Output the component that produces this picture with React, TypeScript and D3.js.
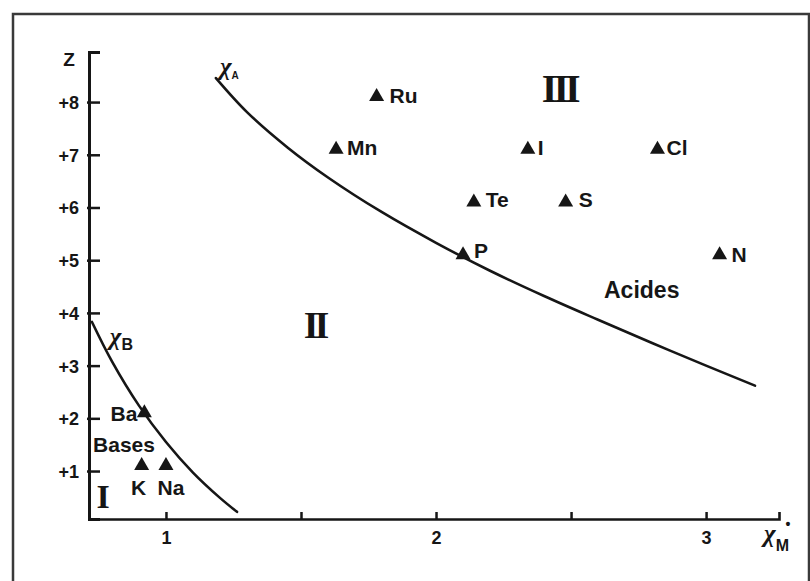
import React, { useEffect, useRef } from "react";
import * as d3 from "d3";

const W = 810;
const H = 581;

// elements: electronegativity (x) and oxidation state Z
const elements = ["Ru", "Mn", "I", "Cl", "Te", "S", "P", "N", "Ba", "K", "Na"];
const chiM = [1.78, 1.63, 2.34, 2.82, 2.14, 2.48, 2.1, 3.05, 0.92, 0.91, 1.0];
const charge = [8, 7, 7, 7, 6, 6, 5, 5, 2, 1, 1];

// boundary curve chi_A (acids)
const acidX = [1.185, 1.3, 1.45, 1.6, 1.8, 2.0, 2.2, 2.4, 2.6, 2.8, 3.0, 3.181];
const acidZ = [8.455, 7.81, 7.14, 6.57, 5.91, 5.33, 4.80, 4.32, 3.87, 3.43, 3.0, 2.62];

// boundary curve chi_B (bases)
const baseX = [0.726, 0.8, 0.9, 1.0, 1.1, 1.2, 1.263];
const baseZ = [3.828, 3.081, 2.241, 1.551, 0.971, 0.491, 0.226];

const zTicks = [1, 2, 3, 4, 5, 6, 7, 8];
const xTicks = [1, 1.5, 2, 2.5, 3];
const xTickLabels = ["1", "", "2", "", "3"];

const regionNames = ["I", "II", "III"];
const regionX = [0.767, 1.55, 2.456];
const regionZ = [0.3, 3.52, 8.0];

const INK = "#161616";
const SANS = "'Liberation Sans', Arial, sans-serif";
const SERIF = "'Liberation Serif', 'Times New Roman', serif";

// label offsets relative to the marker [dx, dy, anchor]
const labelPlace: Record<string, [number, number, string]> = {
  Ru: [13, 1, "start"],
  Mn: [11, 0, "start"],
  I: [10, 0, "start"],
  Cl: [9, 0, "start"],
  Te: [12, 0, "start"],
  S: [13, 0, "start"],
  P: [11, -2, "start"],
  N: [12, 2, "start"],
  Ba: [-7, 3, "end"],
  K: [-3, 24, "middle"],
  Na: [5, 24, "middle"],
};

function Chart() {
  const ref = useRef<SVGSVGElement | null>(null);

  useEffect(() => {
    const svg = d3.select(ref.current);
    svg.selectAll("*").remove();

    const x = d3.scaleLinear().domain([0.715, 3.27]).range([89, 779]);
    const y = d3.scaleLinear().domain([0.09, 8.95]).range([519, 52]);

    // scanned frame
    svg.append("rect")
      .attr("x", 13).attr("y", 14)
      .attr("width", 796).attr("height", 640)
      .attr("fill", "none")
      .attr("stroke", "#3a3a3a")
      .attr("stroke-width", 2.5);

    // y axis
    const yAxis = d3.axisLeft(y)
      .tickValues(zTicks)
      .tickSize(-11)
      .tickPadding(10)
      .tickFormat((d) => "+" + d);
    const gY = svg.append("g").attr("transform", `translate(${x(0.715)},0)`).call(yAxis);
    gY.select(".domain").attr("stroke", INK).attr("stroke-width", 3);
    gY.selectAll(".tick line").attr("stroke", INK).attr("stroke-width", 2.5)
      .attr("x1", -2);
    gY.selectAll(".tick text")
      .attr("fill", INK)
      .attr("font-family", SANS)
      .attr("font-weight", "bold")
      .attr("font-size", 18)
      .attr("dy", "0.36em");

    // x axis
    const xAxis = d3.axisBottom(x)
      .tickValues(xTicks)
      .tickSize(-7)
      .tickPadding(12)
      .tickFormat((d, i) => xTickLabels[i]);
    const gX = svg.append("g").attr("transform", `translate(0,${y(0.09)})`).call(xAxis);
    gX.select(".domain").attr("stroke", INK).attr("stroke-width", 2.6);
    gX.selectAll(".tick line").attr("stroke", INK).attr("stroke-width", 2.5);
    gX.selectAll(".tick text")
      .attr("fill", INK)
      .attr("font-family", SANS)
      .attr("font-weight", "bold")
      .attr("font-size", 18)
      .attr("dy", "0.71em");

    // axis titles
    svg.append("text")
      .attr("x", x(0.715) - 20).attr("y", 66)
      .attr("text-anchor", "middle")
      .attr("font-family", SANS).attr("font-weight", "bold").attr("font-size", 19)
      .attr("fill", INK)
      .text("Z");

    const xm = svg.append("text")
      .attr("x", x(3.27) - 15).attr("y", 542)
      .attr("font-family", SERIF).attr("font-size", 25).attr("fill", INK);
    xm.append("tspan").attr("font-style", "italic").attr("font-weight", "bold").text("χ");
    xm.append("tspan").attr("dy", 9).attr("font-family", SANS).attr("font-weight", "bold")
      .attr("font-size", 16).text("M");
    svg.append("text")
      .attr("x", x(3.27) + 9).attr("y", 529)
      .attr("text-anchor", "middle")
      .attr("font-family", SANS).attr("font-weight", "bold").attr("font-size", 14)
      .attr("fill", INK)
      .text("•");

    // boundary curves
    const line = d3.line<[number, number]>()
      .x((d) => x(d[0]))
      .y((d) => y(d[1]))
      .curve(d3.curveCatmullRom);

    const acid: [number, number][] = acidX.map((v, i) => [v, acidZ[i]]);
    const base: [number, number][] = baseX.map((v, i) => [v, baseZ[i]]);
    [acid, base].forEach((pts) => {
      svg.append("path")
        .attr("d", line(pts))
        .attr("fill", "none")
        .attr("stroke", INK)
        .attr("stroke-width", 2.6)
        .attr("stroke-linecap", "round");
    });

    // curve labels
    const la = svg.append("text")
      .attr("x", x(acidX[0]) + 4).attr("y", y(acidZ[0]) - 3)
      .attr("font-family", SERIF).attr("font-size", 25).attr("fill", INK);
    la.append("tspan").attr("font-style", "italic").attr("font-weight", "bold").text("χ");
    la.append("tspan").attr("dy", 4).attr("font-family", SANS).attr("font-weight", "bold")
      .attr("font-size", 10).text("A");

    const lb = svg.append("text")
      .attr("x", x(0.796) - 1).attr("y", y(3.39))
      .attr("font-family", SERIF).attr("font-size", 25).attr("fill", INK);
    lb.append("tspan").attr("font-style", "italic").attr("font-weight", "bold").text("χ");
    lb.append("tspan").attr("dy", 5).attr("font-family", SANS).attr("font-weight", "bold")
      .attr("font-size", 16).text("B");

    // markers
    const g = svg.append("g");
    elements.forEach((name, i) => {
      const px = x(chiM[i]);
      const py = y(charge[i]) - 1;
      g.append("path")
        .attr("d", `M${px - 7.5},${py}L${px + 7.5},${py}L${px},${py - 13}Z`)
        .attr("fill", INK);
      const [dx, dy, anchor] = labelPlace[name];
      g.append("text")
        .attr("x", px + dx)
        .attr("y", y(charge[i]) + dy)
        .attr("text-anchor", anchor)
        .attr("font-family", SANS)
        .attr("font-weight", "bold")
        .attr("font-size", 21)
        .attr("fill", INK)
        .text(name);
    });

    // region labels
    const sizes = [34, 38, 40];
    regionNames.forEach((r, i) => {
      svg.append("text")
        .attr("x", x(regionX[i]))
        .attr("y", y(regionZ[i]))
        .attr("text-anchor", "middle")
        .attr("font-family", SERIF)
        .attr("font-weight", "bold")
        .attr("font-size", sizes[i])
        .attr("letter-spacing", i === 0 ? 0 : -4)
        .attr("fill", INK)
        .text(r);
    });

    // zone names
    svg.append("text")
      .attr("x", x(2.622)).attr("y", y(4.28))
      .attr("font-family", SANS).attr("font-weight", "bold").attr("font-size", 23)
      .attr("fill", INK)
      .text("Acides");
    svg.append("text")
      .attr("x", x(0.73)).attr("y", y(1.36))
      .attr("font-family", SANS).attr("font-weight", "bold").attr("font-size", 21)
      .attr("fill", INK)
      .text("Bases");
  }, []);

  return (
    <svg
      ref={ref}
      width={W}
      height={H}
      style={{ position: "absolute", left: 0, top: 0, background: "#fff" }}
    />
  );
}

export default function App() {
  return <Chart />;
}
